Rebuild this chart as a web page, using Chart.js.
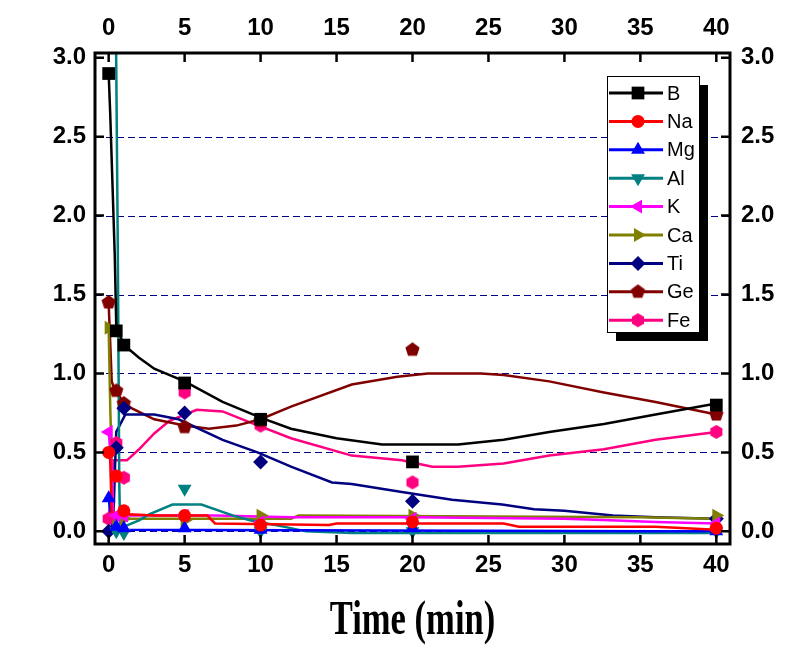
<!DOCTYPE html>
<html>
<head>
<meta charset="utf-8">
<script src="https://cdn.jsdelivr.net/npm/chart.js@4.4.1/dist/chart.umd.min.js"></script>
<style>
  html, body { margin: 0; padding: 0; background: #fff; }
  #wrap { position: relative; width: 812px; height: 664px; }
</style>
</head>
<body>
<div id="wrap"><canvas id="elemChart" width="812" height="664"></canvas></div>
<script>
/* Element release vs time: measured points + fitted curves */
const xTicks = [0, 5, 10, 15, 20, 25, 30, 35, 40];
const yTicks = [0, 0.5, 1.0, 1.5, 2.0, 2.5, 3.0];
const times = [0, 0.5, 1, 5, 10, 20, 40];
const names = ['B', 'Na', 'Mg', 'Al', 'K', 'Ca', 'Ti', 'Ge', 'Fe'];
const xTitle = 'Time (min)';

// measured points (one value per entry in times)
const ptB  = [2.90, 1.27, 1.18, 0.94, 0.71, 0.44, 0.80];
const ptNa = [0.50, 0.35, 0.13, 0.10, 0.04, 0.06, 0.02];
const ptMg = [0.21, 0.03, 0.02, 0.02, 0.01, 0.02, 0.00];
const ptAl = [null, 0.00, -0.01, 0.27, 0.00, 0.00, 0.00];
const ptK  = [0.63, 0.10, 0.10, 0.10, 0.06, 0.08, 0.05];
const ptCa = [1.29, 0.03, 0.08, 0.07, 0.10, 0.10, 0.10];
const ptTi = [0.00, 0.53, 0.78, 0.75, 0.44, 0.19, 0.08];
const ptGe = [1.45, 0.89, 0.81, 0.66, 0.70, 1.15, 0.74];
const ptFe = [0.08, 0.56, 0.34, 0.88, 0.67, 0.31, 0.63];

// fitted curves as [time, value]
const fitB  = [[0,2.90],[0.1,2.65],[0.25,2.2],[0.4,1.75],[0.5,1.30],[1,1.18],[2,1.10],[3,1.03],[5,0.95],[7.5,0.82],[10,0.72],[12,0.65],[15,0.59],[18,0.55],[23,0.55],[26,0.58],[29,0.63],[32.6,0.68],[36,0.74],[40,0.81]];
const fitNa = [[0,0.50],[0.1,0.45],[0.2,0.12],[1,0.11],[3,0.10],[6.5,0.10],[7,0.05],[14.5,0.04],[15,0.05],[26,0.05],[27,0.03],[36,0.03],[40,0.01]];
const fitMg = [[0,0.21],[0.2,0.05],[0.4,0.01],[36,0.00],[40,0.00]];
const fitAl = [[0.45,3.5],[0.6,1.8],[0.7,0.3],[0.75,0.04],[1,0.03],[2,0.07],[2.7,0.11],[4.2,0.17],[6.1,0.17],[8.2,0.10],[9.3,0.07],[11.5,0.03],[13,0.00],[16,-0.01],[40,-0.01]];
const fitK  = [[0,0.63],[0.2,0.40],[0.3,0.10],[1,0.10],[7,0.10],[12,0.09],[20,0.09],[30,0.08],[33,0.07],[36,0.06],[40,0.05]];
const fitCa = [[0,1.29],[0.1,0.80],[0.3,0.08],[1,0.08],[5,0.08],[12,0.08],[12.5,0.10],[35,0.09],[40,0.08]];
const fitTi = [[0,0.00],[0.3,0.05],[0.45,0.50],[0.5,0.63],[1.1,0.74],[3,0.74],[4.6,0.71],[7.5,0.58],[9.8,0.50],[12,0.41],[14.7,0.31],[16,0.30],[19.3,0.25],[22.6,0.20],[25.9,0.17],[28,0.14],[30,0.13],[33.2,0.10],[36,0.09],[40,0.08]];
const fitGe = [[0,1.44],[0.1,1.20],[0.2,0.95],[0.45,0.88],[1,0.82],[1.5,0.78],[3,0.71],[5,0.67],[6.6,0.65],[8.4,0.67],[10,0.71],[12,0.79],[16,0.93],[19,0.98],[21,1.00],[24.5,1.00],[26,0.99],[29,0.95],[32.6,0.88],[36,0.82],[40,0.74]];
const fitFe = [[0,0.08],[0.2,0.30],[0.3,0.45],[1.2,0.45],[2,0.52],[3,0.62],[4,0.70],[5.8,0.77],[7.5,0.76],[9.3,0.69],[12,0.59],[16,0.48],[19.3,0.45],[21.3,0.41],[23,0.41],[26,0.43],[29,0.48],[32.6,0.52],[36,0.58],[40,0.63]];

const colors = ['#000000', '#ff0000', '#0000ff', '#008080', '#ff00ff', '#808000', '#000080', '#800000', '#ff0080'];

function polyMarker(n, color, r) {
  const c = document.createElement('canvas');
  c.width = c.height = 2 * r + 2;
  const g = c.getContext('2d');
  g.fillStyle = color;
  g.beginPath();
  for (let i = 0; i < n; i++) {
    const a = -Math.PI / 2 + i * 2 * Math.PI / n;
    const px = r + 1 + r * Math.cos(a), py = r + 1 + r * Math.sin(a);
    i ? g.lineTo(px, py) : g.moveTo(px, py);
  }
  g.closePath();
  g.fill();
  return c;
}

// marker style per element: [pointStyle, rotation, radius]
const markers = [
  ['rect', 0, 9],
  ['circle', 0, 6.5],
  ['triangle', 0, 8],
  ['triangle', 180, 8],
  ['triangle', -90, 8],
  ['triangle', 90, 8],
  ['rectRot', 0, 7.5],
  [polyMarker(5, colors[7], 7.5), 0, 8],
  [polyMarker(6, colors[8], 7), 0, 8],
];

const points = [ptB, ptNa, ptMg, ptAl, ptK, ptCa, ptTi, ptGe, ptFe];
const fits = [fitB, fitNa, fitMg, fitAl, fitK, fitCa, fitTi, fitGe, fitFe];

const datasets = [];
names.forEach((n, i) => {
  datasets.push({
    label: n,
    data: times.map((t, k) => ({ x: t, y: points[i][k] })),
    showLine: false,
    pointStyle: markers[i][0],
    rotation: markers[i][1],
    pointRadius: markers[i][2],
    pointBackgroundColor: colors[i],
    pointBorderColor: colors[i],
    pointBorderWidth: 0,
    order: 0,
  });
  datasets.push({
    label: n + ' fit',
    data: fits[i].map((p) => ({ x: p[0], y: p[1] })),
    showLine: true,
    borderColor: colors[i],
    borderWidth: 2.5,
    pointRadius: 0,
    tension: 0,
    order: 1,
  });
});

const framePlugin = {
  id: 'frame',
  beforeDatasetsDraw(chart) {
    const { ctx, chartArea: a, scales } = chart;
    ctx.save();
    ctx.strokeStyle = '#00008b';
    ctx.lineWidth = 1;
    ctx.setLineDash([7, 4]);
    yTicks.forEach((v) => {
      if (v >= 3) return;
      const y = Math.round(scales.y.getPixelForValue(v)) + 0.5;
      ctx.beginPath();
      ctx.moveTo(a.left, y);
      ctx.lineTo(a.right, y);
      ctx.stroke();
    });
    ctx.restore();
  },
  afterDatasetsDraw(chart) {
    const { ctx, chartArea: a, scales } = chart;
    ctx.save();
    ctx.strokeStyle = '#000';
    ctx.lineWidth = 3;
    ctx.strokeRect(a.left, a.top, a.right - a.left, a.bottom - a.top);
    ctx.lineWidth = 2.5;
    const tl = 9;
    xTicks.forEach((v) => {
      const x = scales.x.getPixelForValue(v);
      ctx.beginPath();
      ctx.moveTo(x, a.bottom); ctx.lineTo(x, a.bottom - tl);
      ctx.moveTo(x, a.top); ctx.lineTo(x, a.top + tl);
      ctx.stroke();
    });
    yTicks.forEach((v) => {
      const y = scales.y.getPixelForValue(v);
      ctx.beginPath();
      ctx.moveTo(a.left, y); ctx.lineTo(a.left + tl, y);
      ctx.moveTo(a.right, y); ctx.lineTo(a.right - tl, y);
      ctx.stroke();
    });

    // legend with drop shadow
    const lx = 607, ly = 76, lw = 92, lh = 256, sh = 9;
    ctx.fillStyle = '#000';
    ctx.fillRect(lx + sh, ly + sh, lw, lh);
    ctx.fillStyle = '#fff';
    ctx.fillRect(lx, ly, lw, lh);
    ctx.lineWidth = 1;
    ctx.strokeRect(lx + 0.5, ly + 0.5, lw, lh);
    ctx.font = '20px "Liberation Sans", Arial, sans-serif';
    ctx.textBaseline = 'middle';
    names.forEach((n, i) => {
      const y = 93 + i * 28.4;
      ctx.strokeStyle = colors[i];
      ctx.lineWidth = 3;
      ctx.beginPath();
      ctx.moveTo(609, y); ctx.lineTo(663, y);
      ctx.stroke();
      ctx.fillStyle = colors[i];
      ctx.strokeStyle = colors[i];
      Chart.helpers.drawPoint(ctx, {
        pointStyle: markers[i][0],
        rotation: markers[i][1],
        radius: markers[i][2],
        borderWidth: 0,
      }, 638, y);
      ctx.fillStyle = '#000';
      ctx.fillText(n, 667, y + 1);
    });

    // x-axis title: tall, narrow bold serif
    ctx.translate((a.left + a.right) / 2, 622);
    ctx.scale(0.72, 1);
    ctx.font = 'bold 48px "Liberation Serif", "Times New Roman", serif';
    ctx.textAlign = 'center';
    ctx.textBaseline = 'middle';
    ctx.fillStyle = '#000';
    ctx.fillText(xTitle, 0, 0);
    ctx.restore();
  },
};

const tickFont = { family: '"Liberation Sans", Arial, sans-serif', weight: 'bold', size: 24 };

function setTicks(list) {
  return (scale) => { scale.ticks = list.map((v) => ({ value: v })); };
}

new Chart(document.getElementById('elemChart'), {
  type: 'scatter',
  data: { datasets },
  plugins: [framePlugin],
  options: {
    responsive: false,
    animation: false,
    layout: { padding: 0 },
    plugins: { legend: { display: false }, tooltip: { enabled: false } },
    scales: {
      x: {
        type: 'linear', position: 'bottom', min: -0.9, max: 40.9,
        afterBuildTicks: setTicks(xTicks),
        afterFit: (s) => { s.height = 120; },
        grid: { display: false, drawTicks: false },
        border: { display: false },
        ticks: { color: '#000', font: tickFont, padding: 7, maxRotation: 0, autoSkip: false,
          callback: (v) => String(v) },
      },
      x2: {
        type: 'linear', position: 'top', min: -0.9, max: 40.9,
        afterBuildTicks: setTicks(xTicks),
        afterFit: (s) => { s.height = 53; },
        grid: { display: false, drawTicks: false },
        border: { display: false },
        ticks: { color: '#000', font: tickFont, padding: 10, maxRotation: 0, autoSkip: false,
          callback: (v) => String(v) },
      },
      y: {
        type: 'linear', position: 'left', min: -0.08, max: 3.03,
        afterBuildTicks: setTicks(yTicks),
        afterFit: (s) => { s.width = 95; },
        grid: { display: false, drawTicks: false },
        border: { display: false },
        ticks: { color: '#000', font: tickFont, padding: 9, callback: (v) => v.toFixed(1) },
      },
      y2: {
        type: 'linear', position: 'right', min: -0.08, max: 3.03,
        afterBuildTicks: setTicks(yTicks),
        afterFit: (s) => { s.width = 82; },
        grid: { display: false, drawTicks: false },
        border: { display: false },
        ticks: { color: '#000', font: tickFont, padding: 11, callback: (v) => v.toFixed(1) },
      },
    },
  },
});
</script>
</body>
</html>
